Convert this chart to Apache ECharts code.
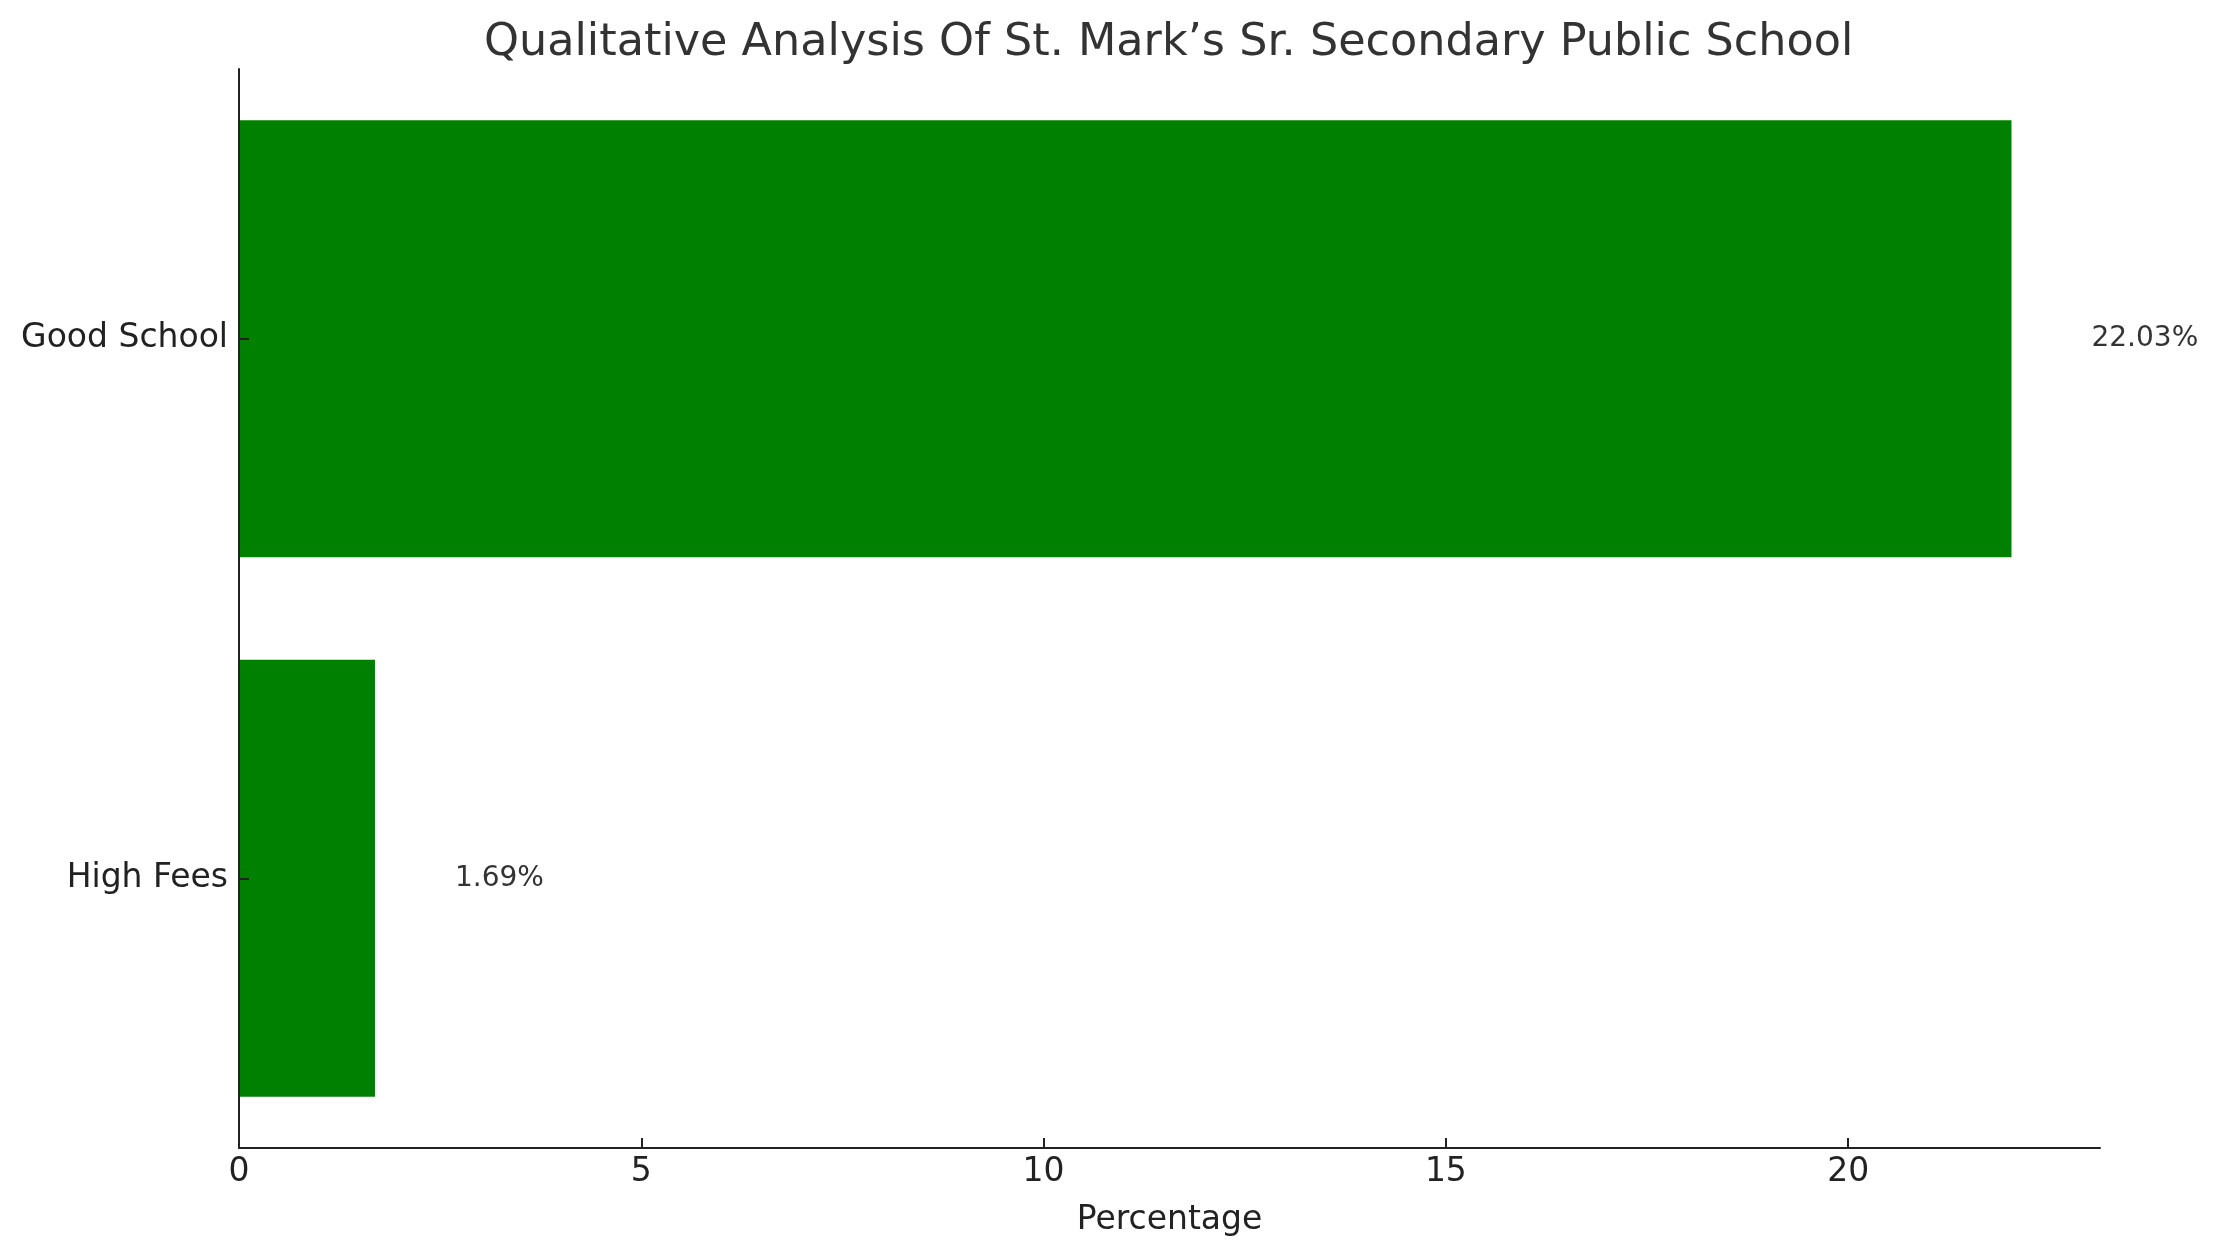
<!DOCTYPE html>
<html>
<head>
<meta charset="utf-8">
<script src="https://cdn.jsdelivr.net/npm/echarts@6/dist/echarts.min.js"></script>
<style>
html,body{margin:0;padding:0;background:#fff;}
#chart{width:2217px;height:1255px;}
</style>
</head>
<body>
<div id="chart"></div>
<script>
const titleText = "Qualitative Analysis Of St. Mark\u2019s Sr. Secondary Public School";
const categories = ["Good School", "High Fees"];
const percentages = [22.03, 1.69];
const xTicks = [0, 5, 10, 15, 20];
const xAxisName = "Percentage";

const FONT = "DejaVu Sans";
const chart = echarts.init(document.getElementById('chart'), null, {renderer: 'canvas'});
chart.setOption({
  backgroundColor: '#ffffff',
  animation: false,
  title: {
    text: titleText,
    left: 479,
    top: 16,
    textStyle: {fontFamily: FONT, fontSize: 44.5, fontWeight: 'normal', color: '#333333'}
  },
  grid: {left: 239, right: 117, top: 69, bottom: 107, containLabel: false},
  xAxis: {
    type: 'value',
    min: 0,
    max: 23.13,
    interval: 5,
    z: 10,
    name: xAxisName,
    nameLocation: 'middle',
    nameGap: 56,
    nameTextStyle: {fontFamily: FONT, fontSize: 33, color: '#222222'},
    axisLine: {show: true, lineStyle: {color: '#222222', width: 2}},
    axisTick: {show: true, inside: true, length: 10, lineStyle: {color: '#222222', width: 2}, customValues: xTicks},
    axisLabel: {fontFamily: FONT, fontSize: 33, color: '#222222', margin: 8, customValues: xTicks},
    splitLine: {show: false}
  },
  yAxis: {
    type: 'category',
    data: categories,
    inverse: true,
    z: 10,
    axisLine: {show: true, lineStyle: {color: '#222222', width: 2}},
    axisTick: {show: true, inside: true, alignWithLabel: true, length: 10, lineStyle: {color: '#222222', width: 2}},
    axisLabel: {fontFamily: FONT, fontSize: 33, color: '#222222', margin: 11},
    splitLine: {show: false}
  },
  series: [{
    type: 'bar',
    data: percentages,
    barWidth: 437,
    itemStyle: {color: '#008000'},
    label: {
      show: true,
      position: 'right',
      distance: 80,
      fontFamily: FONT,
      fontSize: 28,
      color: '#333333',
      formatter: p => p.value.toFixed(2) + '%'
    }
  }]
});
</script>
</body>
</html>
